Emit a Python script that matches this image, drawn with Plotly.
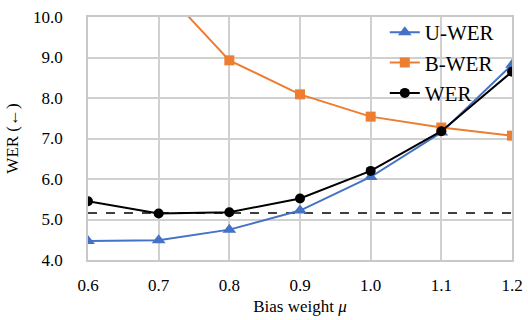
import plotly.graph_objects as go

mu = [0.6, 0.7, 0.8, 0.9, 1.0, 1.1, 1.2]
u_wer = [4.47, 4.49, 4.75, 5.22, 6.05, 7.15, 8.82]
b_wer = [12.5, 10.8, 8.93, 8.09, 7.54, 7.27, 7.07]
wer = [5.45, 5.15, 5.18, 5.52, 6.20, 7.18, 8.65]
baseline = [5.16] * len(mu)
x_ticks = ["0.6", "0.7", "0.8", "0.9", "1.0", "1.1", "1.2"]
y_ticks = [4.0, 5.0, 6.0, 7.0, 8.0, 9.0, 10.0]

FONT = "Liberation Serif"

fig = go.Figure()
fig.add_trace(go.Scatter(x=mu, y=baseline, mode="lines",
                         line=dict(color="black", width=1.5, dash="dash"),
                         showlegend=False, hoverinfo="skip"))
fig.add_trace(go.Scatter(x=mu, y=u_wer, mode="lines+markers", name="U-WER", legendgroup="u",
                         line=dict(color="#4472C4", width=2),
                         marker=dict(symbol="triangle-up", size=12, color="#4472C4")))
fig.add_trace(go.Scatter(x=mu, y=b_wer, mode="lines+markers", name="B-WER", legendgroup="b",
                         line=dict(color="#ED7D31", width=2),
                         marker=dict(symbol="square", size=10, color="#ED7D31")))
fig.add_trace(go.Scatter(x=mu, y=wer, mode="lines+markers", name="WER", legendgroup="w",
                         line=dict(color="black", width=2),
                         marker=dict(symbol="circle", size=10, color="black")))

fig.update_layout(
    width=528, height=320,
    margin=dict(l=88, r=16, t=17, b=60),
    paper_bgcolor="white", plot_bgcolor="white",
    font=dict(family=FONT, size=17, color="black"),
    legend=dict(x=0.7, y=1.02, xanchor="left", yanchor="top",
                bgcolor="rgba(255,255,255,0)", font=dict(family=FONT, size=21, color="black"),
                itemwidth=30, tracegroupgap=0, traceorder="grouped"),
    xaxis=dict(range=[0.6, 1.2], tickvals=mu, ticktext=x_ticks,
               tickfont=dict(family=FONT, size=17, color="black"),
               showgrid=True, gridcolor="#d0d0d0", gridwidth=1.5,
               showline=True, linecolor="#c8c8c8", linewidth=1.5, mirror=True,
               zeroline=False, ticks="", ticklabelstandoff=9, automargin=False,
               ticklabeloverflow="allow",
               title=dict(text="Bias weight <i>μ</i>", font=dict(family=FONT, size=17), standoff=6)),
    yaxis=dict(range=[4.0, 10.0], tickvals=y_ticks, tickformat=".1f",
               tickfont=dict(family=FONT, size=17, color="black"),
               showgrid=True, gridcolor="#d0d0d0", gridwidth=1.5,
               showline=True, linecolor="#c8c8c8", linewidth=1.5, mirror=True,
               zeroline=False, ticks="", ticklabelstandoff=20, automargin=False,
               ticklabeloverflow="allow",
               title=dict(text="WER (←)", font=dict(family=FONT, size=17), standoff=10)),
)

post = (
    "document.body.style.margin='0';"
    "document.body.style.overflow='hidden';"
    "var s=document.createElement('style');"
    "s.textContent='.modebar-container,.modebar{display:none !important;}';"
    "document.head.appendChild(s);"
)
fig.write_html("out.html", post_script=post)
